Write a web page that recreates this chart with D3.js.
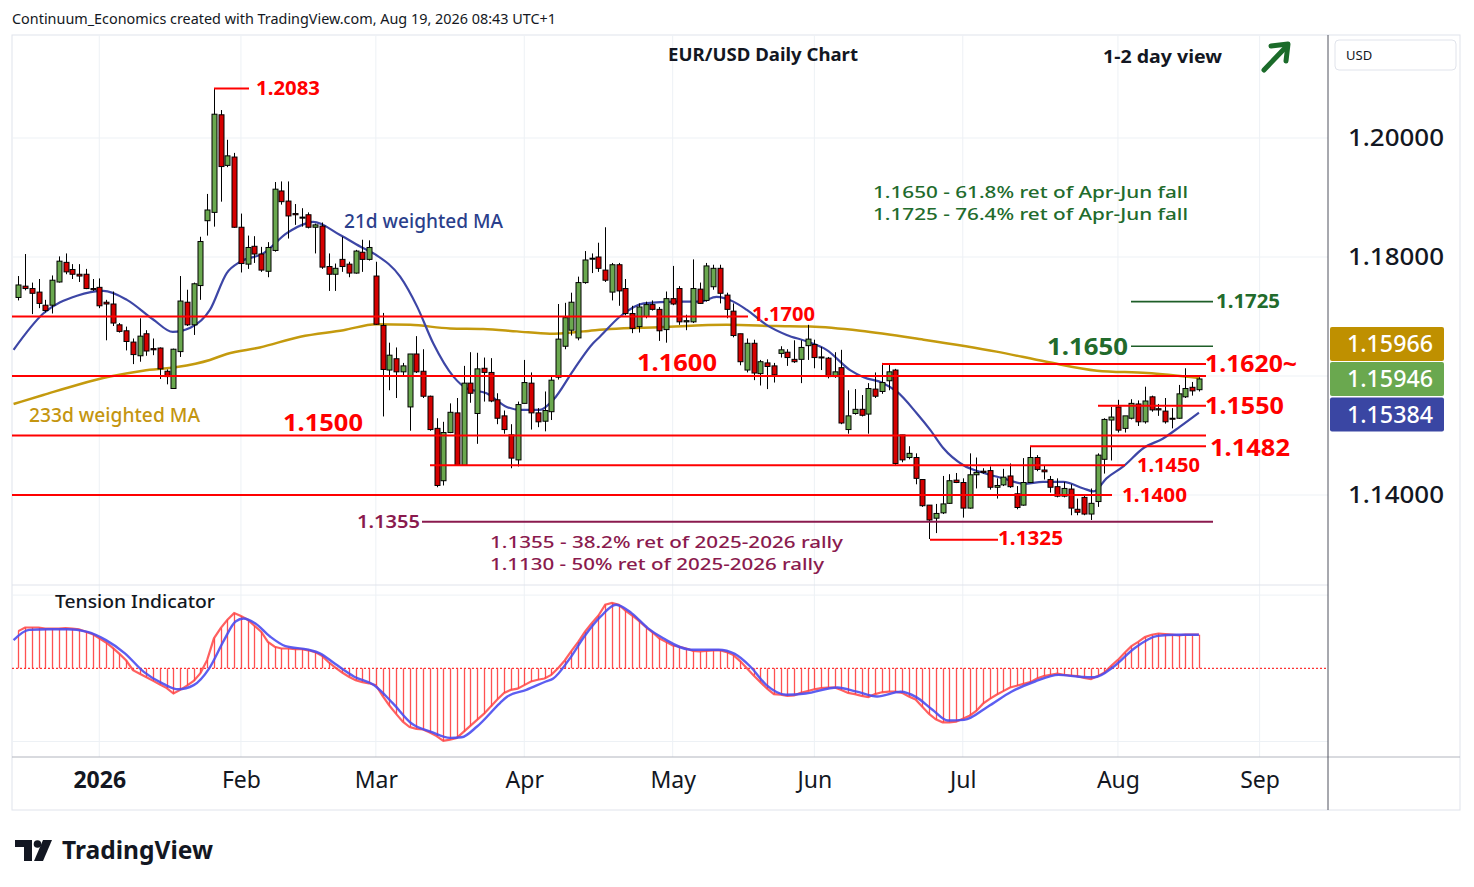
<!DOCTYPE html>
<html>
<head>
<meta charset="utf-8">
<script src="https://d3js.org/d3.v7.min.js"></script>
<style>
  body { margin: 0; background: #fff; }
  svg { display: block; font-family: 'Noto Sans', 'DejaVu Sans', sans-serif; }
</style>
</head>
<body>
<svg id="chart" width="1474" height="887"></svg>
<script>
// ---- data (EUR/USD daily, from 15 Dec 2025) ----
var holidays = ['2025-12-25', '2026-01-01'];

var open = [1.1732,1.1751,1.1747,1.1741,1.1719,1.1719,1.1758,1.1791,1.1779,1.1771,
1.1771,1.1747,1.1749,1.1724,1.1721,1.1686,1.1676,1.1657,1.1634,1.1671,
1.1646,1.1647,1.1608,1.1579,1.1641,1.1724,1.1686,1.1752,1.1861,1.1875,
1.2039,1.1954,1.1968,1.1850,1.1788,1.1818,1.1805,1.1776,1.1811,1.1911,
1.1894,1.1873,1.1867,1.1871,1.1850,1.1852,1.1784,1.1771,1.1796,1.1788,
1.1773,1.1808,1.1796,1.1768,1.1685,1.1610,1.1629,1.1607,1.1548,1.1637,
1.1608,1.1566,1.1512,1.1424,1.1505,1.1538,1.1450,1.1588,1.1537,1.1613,
1.1606,1.1560,1.1533,1.1501,1.1459,1.1554,1.1588,1.1538,1.1524,1.1540,
1.1598,1.1650,1.1677,1.1664,1.1757,1.1797,1.1800,1.1778,1.1741,1.1787,
1.1747,1.1705,1.1683,1.1700,1.1720,1.1712,1.1678,1.1730,1.1747,1.1691,
1.1691,1.1746,1.1727,1.1750,1.1781,1.1736,1.1709,1.1671,1.1610,1.1655,
1.1604,1.1622,1.1617,1.1638,1.1640,1.1628,1.1628,1.1651,1.1653,1.1632,
1.1630,1.1599,1.1614,1.1510,1.1537,1.1544,1.1536,1.1578,1.1574,1.1592,
1.1610,1.1501,1.1463,1.1463,1.1426,1.1383,1.1361,1.1370,1.1386,1.1425,
1.1421,1.1378,1.1434,1.1440,1.1441,1.1413,1.1417,1.1432,1.1402,1.1383,
1.1421,1.1463,1.1442,1.1426,1.1414,1.1398,1.1410,1.1376,1.1396,1.1368,
1.1389,1.1460,1.1526,1.1548,1.1512,1.1529,1.1553,1.1523,1.1565,1.1545,
1.1541,1.1529,1.1529,1.1565,1.1581,1.1577];

var high = [1.1768,1.1805,1.1757,1.1763,1.1728,1.1769,1.1801,1.1806,1.1788,1.1788,
1.1780,1.1763,1.1764,1.1728,1.1742,1.1689,1.1683,1.1663,1.1697,1.1677,
1.1663,1.1648,1.1611,1.1646,1.1768,1.1745,1.1757,1.1834,1.1906,1.2083,
1.2047,1.1997,1.1975,1.1873,1.1836,1.1835,1.1817,1.1825,1.1926,1.1927,
1.1927,1.1889,1.1882,1.1875,1.1856,1.1858,1.1806,1.1789,1.1834,1.1792,
1.1812,1.1829,1.1828,1.1792,1.1706,1.1656,1.1648,1.1622,1.1637,1.1667,
1.1645,1.1567,1.1529,1.1523,1.1554,1.1563,1.1617,1.1640,1.1639,1.1631,
1.1630,1.1571,1.1542,1.1519,1.1557,1.1627,1.1606,1.1546,1.1574,1.1601,
1.1721,1.1723,1.1740,1.1767,1.1810,1.1806,1.1824,1.1850,1.1790,1.1790,
1.1763,1.1718,1.1722,1.1725,1.1727,1.1716,1.1742,1.1785,1.1751,1.1703,
1.1796,1.1757,1.1790,1.1787,1.1787,1.1740,1.1722,1.1671,1.1663,1.1661,
1.1627,1.1628,1.1622,1.1650,1.1645,1.1660,1.1660,1.1686,1.1661,1.1649,
1.1632,1.1640,1.1644,1.1576,1.1578,1.1568,1.1588,1.1606,1.1622,1.1621,
1.1612,1.1501,1.1482,1.1470,1.1426,1.1383,1.1385,1.1432,1.1435,1.1437,
1.1428,1.1470,1.1463,1.1445,1.1448,1.1428,1.1444,1.1453,1.1415,1.1462,
1.1482,1.1467,1.1450,1.1432,1.1428,1.1422,1.1418,1.1394,1.1399,1.1411,
1.1470,1.1529,1.1548,1.1560,1.1532,1.1561,1.1559,1.1582,1.1567,1.1553,
1.1563,1.1546,1.1585,1.1613,1.1590,1.1598];

var low = [1.1727,1.1744,1.1704,1.1714,1.1707,1.1705,1.1757,1.1771,1.1763,1.1758,
1.1746,1.1743,1.1714,1.1660,1.1684,1.1673,1.1643,1.1620,1.1624,1.1634,
1.1635,1.1595,1.1586,1.1579,1.1632,1.1684,1.1669,1.1728,1.1836,1.1851,
1.1893,1.1951,1.1849,1.1774,1.1780,1.1790,1.1775,1.1766,1.1809,1.1888,
1.1831,1.1854,1.1851,1.1848,1.1806,1.1780,1.1743,1.1743,1.1775,1.1766,
1.1772,1.1775,1.1794,1.1686,1.1532,1.1576,1.1563,1.1600,1.1508,1.1605,
1.1563,1.1508,1.1413,1.1416,1.1504,1.1450,1.1450,1.1555,1.1486,1.1557,
1.1556,1.1519,1.1503,1.1445,1.1448,1.1554,1.1510,1.1514,1.1507,1.1526,
1.1594,1.1645,1.1668,1.1660,1.1755,1.1773,1.1775,1.1758,1.1727,1.1718,
1.1702,1.1672,1.1673,1.1697,1.1710,1.1659,1.1656,1.1719,1.1686,1.1677,
1.1689,1.1721,1.1725,1.1745,1.1722,1.1697,1.1665,1.1618,1.1606,1.1593,
1.1584,1.1578,1.1589,1.1631,1.1617,1.1622,1.1588,1.1627,1.1613,1.1610,
1.1596,1.1597,1.1519,1.1503,1.1535,1.1532,1.1503,1.1563,1.1570,1.1576,
1.1450,1.1455,1.1460,1.1418,1.1380,1.1326,1.1336,1.1368,1.1385,1.1420,
1.1362,1.1377,1.1411,1.1436,1.1409,1.1394,1.1415,1.1412,1.1376,1.1382,
1.1420,1.1440,1.1426,1.1404,1.1396,1.1396,1.1366,1.1366,1.1366,1.1358,
1.1380,1.1436,1.1458,1.1505,1.1505,1.1527,1.1516,1.1520,1.1540,1.1533,
1.1520,1.1512,1.1528,1.1563,1.1567,1.1574];

var close = [1.1753,1.1747,1.1739,1.1722,1.1710,1.1761,1.1793,1.1775,1.1771,1.1768,
1.1747,1.1745,1.1718,1.1721,1.1689,1.1675,1.1658,1.1636,1.1667,1.1642,
1.1644,1.1612,1.1599,1.1645,1.1726,1.1686,1.1755,1.1826,1.1879,1.2040,
1.1952,1.1970,1.1850,1.1789,1.1816,1.1805,1.1778,1.1816,1.1914,1.1893,
1.1869,1.1871,1.1866,1.1850,1.1854,1.1783,1.1771,1.1781,1.1784,1.1773,
1.1810,1.1796,1.1816,1.1687,1.1611,1.1635,1.1607,1.1617,1.1637,1.1607,
1.1566,1.1510,1.1416,1.1505,1.1539,1.1450,1.1588,1.1571,1.1612,1.1606,
1.1558,1.1529,1.1510,1.1462,1.1552,1.1589,1.1538,1.1523,1.1542,1.1593,
1.1662,1.1698,1.1724,1.1757,1.1795,1.1798,1.1781,1.1761,1.1787,1.1743,
1.1705,1.1680,1.1716,1.1720,1.1712,1.1676,1.1730,1.1721,1.1691,1.1693,
1.1747,1.1722,1.1785,1.1781,1.1739,1.1712,1.1668,1.1624,1.1655,1.1605,
1.1624,1.1616,1.1602,1.1644,1.1631,1.1624,1.1648,1.1662,1.1631,1.1631,
1.1599,1.1607,1.1521,1.1533,1.1544,1.1534,1.1579,1.1566,1.1589,1.1607,
1.1453,1.1459,1.1470,1.1428,1.1382,1.1358,1.1369,1.1385,1.1424,1.1421,
1.1378,1.1434,1.1438,1.1438,1.1413,1.1416,1.1430,1.1414,1.1379,1.1421,
1.1463,1.1443,1.1439,1.1413,1.1398,1.1411,1.1378,1.1371,1.1368,1.1386,
1.1467,1.1527,1.1531,1.1509,1.1533,1.1554,1.1523,1.1558,1.1543,1.1543,
1.1523,1.1528,1.1570,1.1579,1.1575,1.1595];

// 21d weighted MA, read at bar positions
var ma21Idx = [-0.7,3.7,8.7,12.6,16.1,20,22.9,25.5,28.4,30.9,32.9,36.3,39.8,42.8,43.7,47.7,51.1,53.1,56.6,59.1,
61.5,64.5,66.5,69.4,72.4,74.4,77.3,79.3,82.3,85.2,86.2,89.2,92.7,97.6,101.1,103.5,106,108,110.9,113.9,
116.9,119.8,123.3,125.3,128.2,130.2,133.2,135.2,137.1,140.1,143.1,146,149,151.9,154.9,157.9,159.4,161.3,163.8,166.8,
169.7,172.2,175];
var ma21Val = [1.1644,1.1705,1.1735,1.1743,1.1728,1.1695,1.1674,1.1681,1.1711,1.1773,1.1792,1.1806,1.1840,1.1857,1.1859,1.1837,1.1815,1.1803,1.1767,1.1717,
1.1655,1.1599,1.1579,1.1571,1.1548,1.1543,1.1543,1.1560,1.1610,1.1655,1.1666,1.1700,1.1722,1.1725,1.1725,1.1733,1.1725,1.1711,1.1686,1.1669,
1.1658,1.1644,1.1610,1.1598,1.1588,1.1574,1.1537,1.1509,1.1479,1.1450,1.1437,1.1428,1.1419,1.1422,1.1422,1.1411,1.1406,1.1428,1.1448,1.1479,
1.1495,1.1515,1.15384];

// 233d weighted MA
var ma233Idx = [-0.7,3.7,8.7,13.6,18.5,23.5,28.4,30.9,35.8,41.8,48.2,53.1,58.1,64,68.9,73.9,78.8,83.8,87.7,95.1,
105,112.4,117.4,124.8,134.2,145,152.4,159.9,167.3,175];
var ma233Val = [1.1553,1.1568,1.1585,1.1599,1.1609,1.1615,1.1627,1.1637,1.1648,1.1666,1.1677,1.1687,1.1686,1.1680,1.1679,1.1675,1.1671,1.1675,1.1679,1.1682,
1.1686,1.1684,1.1683,1.1676,1.1661,1.1641,1.1624,1.1609,1.1605,1.15966];

// Tension indicator histogram (one value per bar) and its signal line
var tension = [0.62,0.68,0.68,0.68,0.66,0.66,0.66,0.67,0.66,0.65,
0.61,0.57,0.50,0.43,0.34,0.24,0.13,-0.03,-0.09,-0.15,
-0.21,-0.27,-0.33,-0.42,-0.36,-0.29,-0.21,-0.08,0.14,0.50,
0.67,0.81,0.92,0.87,0.81,0.71,0.61,0.44,0.36,0.33,
0.33,0.32,0.32,0.30,0.27,0.21,0.10,0.01,-0.07,-0.14,
-0.20,-0.23,-0.25,-0.28,-0.46,-0.62,-0.76,-0.89,-0.98,-1.01,
-1.02,-1.07,-1.13,-1.21,-1.19,-1.16,-1.06,-0.96,-0.86,-0.76,
-0.64,-0.52,-0.41,-0.36,-0.34,-0.28,-0.22,-0.19,-0.17,-0.11,
0.00,0.13,0.29,0.44,0.61,0.75,0.88,1.06,1.09,1.06,
0.96,0.88,0.79,0.69,0.60,0.50,0.44,0.38,0.36,0.33,
0.29,0.28,0.29,0.30,0.30,0.27,0.22,0.12,0.00,-0.12,
-0.23,-0.34,-0.43,-0.44,-0.46,-0.45,-0.41,-0.38,-0.35,-0.33,
-0.32,-0.32,-0.36,-0.41,-0.43,-0.46,-0.48,-0.43,-0.40,-0.39,
-0.39,-0.41,-0.47,-0.52,-0.64,-0.76,-0.85,-0.90,-0.90,-0.89,
-0.84,-0.79,-0.71,-0.59,-0.51,-0.44,-0.38,-0.32,-0.29,-0.26,
-0.23,-0.17,-0.13,-0.11,-0.09,-0.11,-0.12,-0.13,-0.16,-0.18,
-0.13,-0.07,0.04,0.14,0.26,0.37,0.44,0.52,0.56,0.58,
0.57,0.56,0.55,0.56,0.56,0.56];
var sigIdx = [-0.7,1.6,4.4,7.3,10.1,13,15.8,18.6,21.5,23.7,26,28.3,30.5,32.2,33.4,35.1,37.3,39.6,43,44.7,
47,49.8,52.7,55.5,58.3,61.2,64,65.7,68,71.4,72.5,75.3,78.2,79.3,81.6,83.9,86.3,88.6,90.9,93.3,
95.6,99.7,103.8,106.2,108.5,110.9,113.8,116.7,121.4,124.3,127.3,130.8,133.1,135.5,137.8,140.2,143.7,147.2,150.7,154.2,
157.2,159.5,162.4,165.4,168.9,171.8,175];
var sigVal = [0.47,0.64,0.65,0.65,0.61,0.47,0.25,-0.06,-0.26,-0.35,-0.28,0.00,0.47,0.78,0.83,0.75,0.53,0.37,0.31,0.25,
0.07,-0.14,-0.28,-0.58,-0.92,-1.06,-1.16,-1.15,-0.97,-0.58,-0.47,-0.36,-0.22,-0.17,0.14,0.53,0.86,1.06,0.92,0.67,
0.50,0.31,0.31,0.24,0.03,-0.28,-0.44,-0.42,-0.32,-0.39,-0.47,-0.39,-0.48,-0.69,-0.87,-0.86,-0.64,-0.39,-0.22,-0.11,
-0.14,-0.15,0.03,0.33,0.54,0.56,0.56];

// key levels and their labels
var supportVals = [1.2083, 1.1700, 1.1600, 1.1620, 1.1550, 1.1500, 1.1482, 1.1450, 1.1400, 1.1325];
var supportLabels = ['1.2083', '1.1700', '1.1600', '1.1620~', '1.1550', '1.1500', '1.1482', '1.1450', '1.1400', '1.1325'];
var targetVals = [1.1725, 1.1650];
var targetLabels = ['1.1725', '1.1650'];
var retraceVal = 1.1355;
var priceTicks = [1.14, 1.16, 1.18, 1.20];
var lastTags = [
    { label: '1.15966', color: '#bf9000' },
    { label: '1.15946', color: '#6aa84f' },
    { label: '1.15384', color: '#3a46a3' }
];

// ---- layout ----
var svg = d3.select('#chart');
var L = 12, R = 1328, T = 35, B = 585, IB = 757, XB = 810, RR = 1460;
var RED = '#ff0000', GREEN_TXT = '#226b2c', MAROON = '#8a1a4e';

// stretch a text to the width it has in the reference
function fit(sel, w) {
    return sel.attr('textLength', w).attr('lengthAdjust', 'spacingAndGlyphs');
}

var fmt = d3.utcFormat('%Y-%m-%d');
var days = d3.utcDays(new Date(Date.UTC(2025, 11, 15)), new Date(Date.UTC(2026, 9, 1)))
    .filter(function (d) {
        var wd = d.getUTCDay();
        return wd !== 0 && wd !== 6 && holidays.indexOf(fmt(d)) < 0;
    });

var x = d3.scaleLinear().domain([0, 175]).range([18.3, 1198.9]);
var y = d3.scaleLinear().domain([1.14, 1.20]).range([495, 138]);
var yi = d3.scaleLinear().domain([-1.5, 1.5]).range([758.3, 578.3]);

// month ticks: first trading day of each month
var monthIdx = [];
days.forEach(function (d, i) {
    if (d.getUTCFullYear() === 2026 && (i === 0 || days[i - 1].getUTCMonth() !== d.getUTCMonth())) monthIdx.push(i);
});

svg.append('rect').attr('width', 1474).attr('height', 887).attr('fill', '#fff');

// header
fit(svg.append('text').attr('x', 12).attr('y', 24).attr('font-size', 14).attr('fill', '#131722')
    .text('Continuum_Economics created with TradingView.com, Aug 19, 2026 08:43 UTC+1'), 544);

// frame
svg.append('rect').attr('x', L).attr('y', T).attr('width', RR - L).attr('height', XB - T)
    .attr('fill', 'none').attr('stroke', '#e0e3eb');

var defs = svg.append('defs');
defs.append('clipPath').attr('id', 'mainClip').append('rect')
    .attr('x', L).attr('y', T).attr('width', R - L).attr('height', B - T);
defs.append('clipPath').attr('id', 'indClip').append('rect')
    .attr('x', L).attr('y', B).attr('width', R - L).attr('height', IB - B);

// grid
var grid = svg.append('g').attr('stroke', '#edf1f5').attr('stroke-width', 1);
priceTicks.forEach(function (p) {
    grid.append('line').attr('x1', L).attr('x2', R).attr('y1', y(p)).attr('y2', y(p));
});
[1.22, -1.22].forEach(function (v) {
    grid.append('line').attr('x1', L).attr('x2', R).attr('y1', yi(v)).attr('y2', yi(v));
});
monthIdx.forEach(function (i) {
    if (x(i) < R) grid.append('line').attr('x1', x(i)).attr('x2', x(i)).attr('y1', T).attr('y2', IB);
});

// pane separators and axes lines
svg.append('line').attr('x1', L).attr('x2', R).attr('y1', B).attr('y2', B).attr('stroke', '#e0e3eb');
svg.append('line').attr('x1', L).attr('x2', RR).attr('y1', IB).attr('y2', IB).attr('stroke', '#b2b5be');
svg.append('line').attr('x1', R).attr('x2', R).attr('y1', T).attr('y2', XB).attr('stroke', '#50535e');

var main = svg.append('g').attr('clip-path', 'url(#mainClip)');

// moving averages
var maLine = d3.line().x(function (d) { return x(d[0]); }).y(function (d) { return y(d[1]); })
    .curve(d3.curveMonotoneX);
main.append('path').datum(d3.zip(ma233Idx, ma233Val)).attr('d', maLine)
    .attr('fill', 'none').attr('stroke', '#c49a0e').attr('stroke-width', 2.5);
main.append('path').datum(d3.zip(ma21Idx, ma21Val)).attr('d', maLine)
    .attr('fill', 'none').attr('stroke', '#3d46a6').attr('stroke-width', 2.2);

// level lines
var supportLayout = [
    { x0: 214, x1: 249, lx: 256, dy: 0, fs: 19, w: 64 },
    { x0: L, x1: 748, lx: 752, dy: -2, fs: 19, w: 63 },
    { x0: L, x1: 1206, lx: 637, dy: -13, fs: 24, w: 80 },
    { x0: 882, x1: 1206, lx: 1205, dy: -1, fs: 24, w: 92 },
    { x0: 1098, x1: 1206, lx: 1205, dy: 0, fs: 24, w: 79 },
    { x0: L, x1: 1206, lx: 283, dy: -13, fs: 24, w: 80 },
    { x0: 1030, x1: 1206, lx: 1210, dy: 1, fs: 24, w: 80 },
    { x0: 430, x1: 1125, lx: 1137, dy: 0, fs: 19, w: 63 },
    { x0: L, x1: 1112, lx: 1122, dy: 0, fs: 19, w: 65 },
    { x0: 930, x1: 998, lx: 998, dy: -1, fs: 19, w: 65 }
];
var lvl = svg.append('g');
supportVals.forEach(function (v, k) {
    var s = supportLayout[k];
    lvl.append('line').attr('x1', s.x0).attr('x2', s.x1).attr('y1', y(v)).attr('y2', y(v))
        .attr('stroke', RED).attr('stroke-width', 2);
});
var targetLayout = [
    { lx: 1216, anchor: 'start', fs: 19, w: 64 },
    { lx: 1128, anchor: 'end', fs: 24, w: 81 }
];
targetVals.forEach(function (v) {
    lvl.append('line').attr('x1', 1131).attr('x2', 1213).attr('y1', y(v)).attr('y2', y(v))
        .attr('stroke', '#1e5e28').attr('stroke-width', 1.6);
});
lvl.append('line').attr('x1', 422).attr('x2', 1213).attr('y1', y(retraceVal)).attr('y2', y(retraceVal))
    .attr('stroke', MAROON).attr('stroke-width', 2);

// candles
var candles = main.append('g');
d3.range(close.length).forEach(function (i) {
    var cx = Math.round(x(i)) + 0.5;
    var up = close[i] >= open[i];
    var top = y(Math.max(open[i], close[i])), bot = y(Math.min(open[i], close[i]));
    candles.append('line').attr('x1', cx).attr('x2', cx).attr('y1', y(high[i])).attr('y2', y(low[i]))
        .attr('stroke', '#000').attr('stroke-width', 1);
    candles.append('rect').attr('x', cx - 2.5).attr('y', top).attr('width', 5)
        .attr('height', Math.max(1, bot - top))
        .attr('fill', up ? '#6aa84f' : '#d50000').attr('stroke', '#000').attr('stroke-width', 1);
});

// level labels
supportVals.forEach(function (v, k) {
    var s = supportLayout[k];
    fit(lvl.append('text').attr('x', s.lx).attr('y', y(v) + s.dy).attr('dy', '0.35em')
        .attr('font-size', s.fs).attr('font-weight', 700).attr('fill', RED).text(supportLabels[k]), s.w);
});
targetVals.forEach(function (v, k) {
    var s = targetLayout[k];
    fit(lvl.append('text').attr('x', s.lx).attr('y', y(v)).attr('dy', '0.35em').attr('text-anchor', s.anchor)
        .attr('font-size', s.fs).attr('font-weight', 700).attr('fill', GREEN_TXT).text(targetLabels[k]), s.w);
});
fit(lvl.append('text').attr('x', 420).attr('y', y(retraceVal)).attr('dy', '0.35em').attr('text-anchor', 'end')
    .attr('font-size', 18).attr('font-weight', 600).attr('fill', MAROON).text('1.1355'), 63);

// annotations (two-line notes, kept a touch apart so the lines do not collide)
var notes = svg.append('g').attr('font-size', 16).attr('font-weight', 500);
fit(notes.append('text').attr('x', 873).attr('y', 192).attr('dy', '0.35em').attr('fill', GREEN_TXT)
    .text('1.1650 - 61.8% ret of Apr-Jun fall'), 315);
fit(notes.append('text').attr('x', 873).attr('y', 214).attr('dy', '0.35em').attr('fill', GREEN_TXT)
    .text('1.1725 - 76.4% ret of Apr-Jun fall'), 315);
fit(notes.append('text').attr('x', 490).attr('y', 542).attr('dy', '0.35em').attr('fill', MAROON)
    .text('1.1355 - 38.2% ret of 2025-2026 rally'), 353);
fit(notes.append('text').attr('x', 490).attr('y', 564).attr('dy', '0.35em').attr('fill', MAROON)
    .text('1.1130 - 50% ret of 2025-2026 rally'), 334);
fit(notes.append('text').attr('x', 344).attr('y', 221).attr('dy', '0.35em').attr('font-size', 19)
    .attr('fill', '#2b3f8c').text('21d weighted MA'), 159);
fit(notes.append('text').attr('x', 29).attr('y', 415).attr('dy', '0.35em').attr('font-size', 19)
    .attr('fill', '#c4950f').text('233d weighted MA'), 171);

// titles
fit(svg.append('text').attr('x', 668).attr('y', 55).attr('dy', '0.35em')
    .attr('font-size', 18.5).attr('font-weight', 700).attr('fill', '#131722').text('EUR/USD Daily Chart'), 190);
fit(svg.append('text').attr('x', 1103).attr('y', 57).attr('dy', '0.35em')
    .attr('font-size', 18.5).attr('font-weight', 700).attr('fill', '#131722').text('1-2 day view'), 119);

// up arrow
var arrow = svg.append('g').attr('stroke', '#1b6b2a').attr('stroke-width', 5)
    .attr('fill', 'none').attr('stroke-linecap', 'round').attr('stroke-linejoin', 'round');
arrow.append('line').attr('x1', 1264).attr('y1', 70).attr('x2', 1285).attr('y2', 48);
arrow.append('polyline').attr('points', '1271,46 1288,44 1286,61');

// ---- tension indicator ----
var ind = svg.append('g').attr('clip-path', 'url(#indClip)');
ind.append('line').attr('x1', L).attr('x2', R).attr('y1', yi(0)).attr('y2', yi(0))
    .attr('stroke', RED).attr('stroke-width', 1).attr('stroke-dasharray', '2,2');
tension.forEach(function (v, i) {
    var cx = Math.round(x(i)) + 0.5;
    ind.append('line').attr('x1', cx).attr('x2', cx).attr('y1', yi(0)).attr('y2', yi(v))
        .attr('stroke', '#ff3333').attr('stroke-width', 1.3).attr('opacity', 0.85);
});
ind.append('path').datum(tension.map(function (v, i) { return [i, v]; }))
    .attr('d', d3.line().x(function (d) { return x(d[0]); }).y(function (d) { return yi(d[1]); }))
    .attr('fill', 'none').attr('stroke', '#ff4444').attr('stroke-width', 2.2).attr('opacity', 0.85);
ind.append('path').datum(d3.zip(sigIdx, sigVal))
    .attr('d', d3.line().x(function (d) { return x(d[0]); }).y(function (d) { return yi(d[1]); })
        .curve(d3.curveMonotoneX))
    .attr('fill', 'none').attr('stroke', '#4a4cf0').attr('stroke-width', 2.4).attr('opacity', 0.9);
fit(svg.append('text').attr('x', 55).attr('y', 602).attr('dy', '0.35em').attr('font-size', 18)
    .attr('font-weight', 500).attr('fill', '#131722').text('Tension Indicator'), 160);

// ---- axes ----
var xAxis = d3.axisBottom(x).tickValues(monthIdx).tickSize(0).tickPadding(15)
    .tickFormat(function (i) {
        var d = days[i];
        return d.getUTCMonth() === 0 ? String(d.getUTCFullYear()) : d3.utcFormat('%b')(d);
    });
var gx = svg.append('g').attr('transform', 'translate(0,' + IB + ')').call(xAxis);
gx.select('.domain').remove();
gx.selectAll('text').attr('font-size', 23).attr('fill', '#131722')
    .attr('font-family', "'Noto Sans', sans-serif")
    .attr('font-weight', function (i) { return days[i].getUTCMonth() === 0 ? 700 : 400; });
gx.selectAll('.tick').filter(function (i) { return x(i) > R; }).remove();

var yAxis = d3.axisRight(y).tickValues(priceTicks).tickSize(0).tickPadding(20)
    .tickFormat(d3.format('.5f'));
var gy = svg.append('g').attr('transform', 'translate(' + R + ',0)').call(yAxis);
gy.select('.domain').remove();
gy.selectAll('text').attr('font-size', 24).attr('font-weight', 500).attr('fill', '#131722')
    .attr('font-family', "'Noto Sans', sans-serif")
    .attr('textLength', 96).attr('lengthAdjust', 'spacingAndGlyphs');
// the 1.16 label sits under the last-value tags in the reference
gy.selectAll('.tick').filter(function (p) { return Math.abs(p - 1.16) < 1e-9; }).select('text').remove();

// last value tags
var tagY = [327, 362, 397.5];
lastTags.forEach(function (t, k) {
    svg.append('rect').attr('x', 1330).attr('y', tagY[k]).attr('width', 114).attr('height', 34)
        .attr('rx', 2).attr('fill', t.color);
    fit(svg.append('text').attr('x', 1347).attr('y', tagY[k] + 17).attr('dy', '0.35em')
        .attr('font-size', 23).attr('font-weight', 500)
        .attr('fill', '#fff').text(t.label), 86);
});

// currency box
svg.append('rect').attr('x', 1335).attr('y', 40).attr('width', 121).attr('height', 30).attr('rx', 4)
    .attr('fill', '#fff').attr('stroke', '#e0e3eb');
svg.append('text').attr('x', 1346).attr('y', 55).attr('dy', '0.35em').attr('font-size', 13)
    .attr('fill', '#131722').text('USD');

// TradingView logo
var logo = svg.append('g').attr('fill', '#131722');
logo.append('path').attr('d', 'M15,840 H32 V861 H24 V847 H15 Z');
logo.append('circle').attr('cx', 37.5).attr('cy', 844).attr('r', 3.8);
logo.append('path').attr('d', 'M43,840 H52 L43,861 H34 Z');
fit(logo.append('text').attr('x', 62).attr('y', 850).attr('dy', '0.35em').attr('font-size', 25)
    .attr('font-weight', 700).text('TradingView'), 151);
</script>
</body>
</html>
